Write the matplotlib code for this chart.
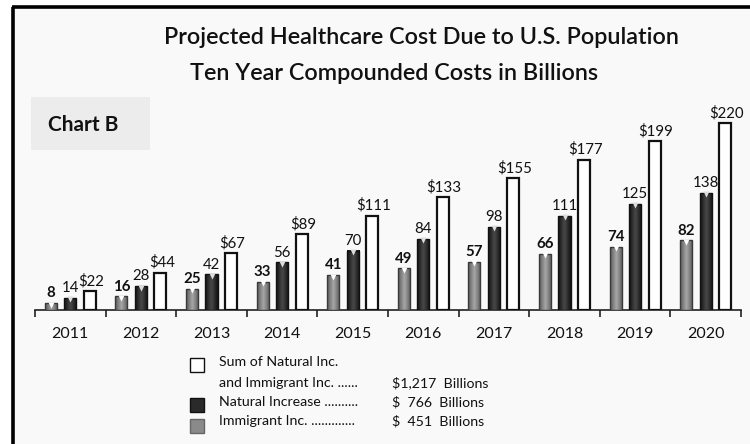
import matplotlib
matplotlib.use("Agg")
import matplotlib.pyplot as plt
import numpy as np
from matplotlib.patches import Rectangle
from matplotlib.lines import Line2D
from matplotlib.colors import LinearSegmentedColormap

years = ["2011", "2012", "2013", "2014", "2015", "2016", "2017", "2018", "2019", "2020"]
immigrant = [8, 16, 25, 33, 41, 49, 57, 66, 74, 82]
natural = [14, 28, 42, 56, 70, 84, 98, 111, 125, 138]
total = [22, 44, 67, 89, 111, 133, 155, 177, 199, 220]

title1 = "Projected Healthcare Cost Due to U.S. Population"
title2 = "Ten Year Compounded Costs in Billions"
legend_lines = ["Sum of Natural Inc.", "and Immigrant Inc. ......", "Natural Increase ..........", "Immigrant Inc. ............."]
legend_values = ["$1,217  Billions", "$  766  Billions", "$  451  Billions"]

FONT = "Lato"
W, H = 750, 444
fig = plt.figure(figsize=(W / 100, H / 100), dpi=100)
fig.patch.set_facecolor("white")

def fx(px):
    return px / W

def fy(py):
    return 1 - py / H

# background panel
fig.patches.append(Rectangle((fx(13), 0), 1 - fx(13), fy(7), transform=fig.transFigure,
                             facecolor="#f9f9f9", edgecolor="none", zorder=-5))
fig.lines.append(Line2D([fx(13.5), fx(13.5)], [0, fy(7)], transform=fig.transFigure,
                        color="black", lw=2.6, solid_capstyle="butt", zorder=-4))
fig.lines.append(Line2D([fx(12.2), 1], [fy(7.5), fy(7.5)], transform=fig.transFigure,
                        color="black", lw=2.6, solid_capstyle="butt", zorder=-4))

# Chart B box
fig.patches.append(Rectangle((fx(31), fy(150)), fx(119), fy(97) - fy(150), transform=fig.transFigure,
                             facecolor="#ececec", edgecolor="none", zorder=-3))
fig.text(fx(48), fy(125), "Chart B", fontsize=15, fontweight="bold", family=FONT,
         va="center", ha="left", color="#111111")

fig.text(fx(421), fy(37), title1, fontsize=16.8, fontweight="semibold", family=FONT,
         ha="center", va="center", color="#111111")
fig.text(fx(394), fy(73), title2, fontsize=16.8, fontweight="semibold", family=FONT,
         ha="center", va="center", color="#111111")

# axes
ax_l, ax_r, ax_b, ax_t = 35, 741, 310, 100
ax = fig.add_axes([fx(ax_l), fy(ax_b), fx(ax_r - ax_l), fy(ax_t) - fy(ax_b)])
ax.set_zorder(2)
ax.set_facecolor("none")
ymax = (ax_b - ax_t) / 0.85

x = np.arange(len(years))
off = 0.275
bw = 0.17
cm_imm = LinearSegmentedColormap.from_list("imm", ["#5a5a5a", "#a8a8a8", "#5a5a5a"])
cm_nat = LinearSegmentedColormap.from_list("nat", ["#111111", "#4a4a4a", "#111111"])
grad = np.linspace(0, 1, 64).reshape(1, -1)

b_imm = ax.bar(x - off, immigrant, bw, color="#8e8e8e", edgecolor="#3a3a3a", lw=1.0, zorder=3)
b_nat = ax.bar(x, natural, bw, color="#363636", edgecolor="#111111", lw=1.0, zorder=3)
b_tot = ax.bar(x + off, total, bw, color="white", edgecolor="#111111", lw=1.6, zorder=3)

for bars, cm in ((b_imm, cm_imm), (b_nat, cm_nat)):
    for p in bars:
        x0, w, h = p.get_x(), p.get_width(), p.get_height()
        im = ax.imshow(grad, extent=[x0, x0 + w, 0, h], aspect="auto", cmap=cm, zorder=3.5,
                       interpolation="bicubic")
        im.set_clip_path(p)
        p.set_facecolor("none")
        p.set_zorder(4)

# small highlight triangles at bar tops
ax.plot(x - off, np.array(immigrant) - 1.6, "v", color="white", ms=4, mec="none", zorder=5)
ax.plot(x, np.array(natural) - 1.6, "v", color="#dddddd", ms=4, mec="none", zorder=5)

ax.set_ylim(0, ymax)
ax.set_xlim(-0.5, len(years) - 0.5)

for i in range(len(years)):
    ax.annotate(str(immigrant[i]), (x[i] - off, immigrant[i]), xytext=(0, 2), textcoords="offset points",
                ha="center", va="bottom", fontsize=10.8, fontweight="bold", family=FONT, color="#111111")
    ax.annotate(str(natural[i]), (x[i], natural[i]), xytext=(0, 2), textcoords="offset points",
                ha="center", va="bottom", fontsize=10.8, family=FONT, color="#111111")
    ax.annotate("$" + str(total[i]), (x[i] + off + 0.02, total[i]), xytext=(0, 2), textcoords="offset points",
                ha="center", va="bottom", fontsize=10.8, family=FONT, color="#111111")

for s in ["top", "right", "left"]:
    ax.spines[s].set_visible(False)
ax.spines["bottom"].set_color("#222222")
ax.spines["bottom"].set_linewidth(1.2)
ax.set_yticks([])
ax.set_xticks(np.arange(-0.5, len(years), 1.0))
ax.set_xticklabels([])
ax.tick_params(axis="x", which="major", length=5, width=1.2, color="#222222", direction="out")
ax.set_xticks(x, minor=True)
ax.set_xticklabels(years, minor=True, fontsize=11.5, family=FONT, color="#111111")
ax.tick_params(axis="x", which="minor", length=0, pad=12)

# legend
sq = 14
def square(x0, y0, fc, ec):
    fig.patches.append(Rectangle((fx(x0), fy(y0 + sq)), fx(sq), fy(y0) - fy(y0 + sq), transform=fig.transFigure,
                                 facecolor=fc, edgecolor=ec, lw=1.0, zorder=3))

square(190, 358, "white", "#111111")
square(190, 398, "#2a2a2a", "#111111")
square(190, 419, "#8a8a8a", "#666666")
lys = [362, 383, 402, 421]
for t, y in zip(legend_lines, lys):
    fig.text(fx(219), fy(y), t, fontsize=10.2, family=FONT, va="center", ha="left", color="#111111")
for t, y in zip(legend_values, lys[1:]):
    fig.text(fx(392), fy(y), t, fontsize=10.2, family=FONT, va="center", ha="left", color="#111111")

fig.savefig("out.png", dpi=100, facecolor=fig.get_facecolor())
